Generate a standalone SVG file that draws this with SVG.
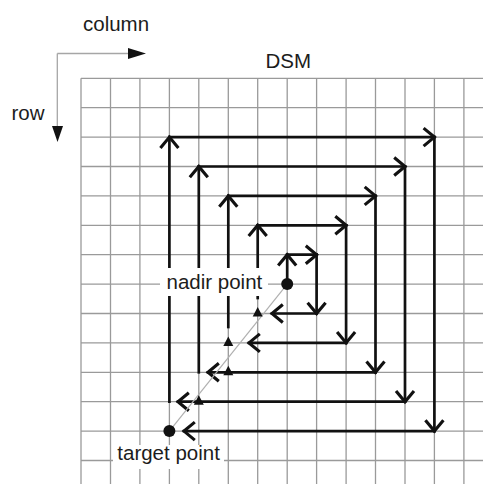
<svg xmlns="http://www.w3.org/2000/svg" width="483" height="484" viewBox="0 0 483 484">
  <style>
    .grid { stroke: #9a9a9a; stroke-width: 1.3; fill: none; }
    .axis { stroke: #a6a6a6; stroke-width: 1.3; fill: none; }
    .ray { stroke: #b0b0b0; stroke-width: 1.2; fill: none; }
    .loop { stroke: #111; stroke-width: 2.7; fill: none; stroke-linecap: square; marker-end: url(#chev); }
    .mark { fill: #111; }
    .lbl { font-family: "Liberation Sans", Arial, Helvetica, sans-serif; font-size: 20.5px; fill: #1c1c1c; }
  </style>
  <defs>
    <!-- open chevron arrowhead used on every spiral leg -->
    <marker id="chev" markerUnits="userSpaceOnUse" orient="auto" markerWidth="24" markerHeight="24" viewBox="-12 -10 16 20" refX="0" refY="0" overflow="visible">
      <path d="M-9,-7.5 L0,0 L-9,7.5" fill="none" stroke="#111" stroke-width="2.6"/>
    </marker>
  </defs>

  <rect width="483" height="484" fill="#fff"/>

  <!-- DSM grid -->
  <path class="grid" d="M81 78.3V484M110.5 78.3V484M139.9 78.3V484M169.4 78.3V484M198.8 78.3V484M228.3 78.3V484M257.7 78.3V484M287.2 78.3V484M316.6 78.3V484M346.1 78.3V484M375.5 78.3V484M405 78.3V484M434.4 78.3V484M463.9 78.3V484
  M81 78.3H483M81 107.7H483M81 137.1H483M81 166.5H483M81 195.9H483M81 225.3H483M81 254.7H483M81 284.1H483M81 313.5H483M81 342.9H483M81 372.3H483M81 401.7H483M81 431.1H483M81 460.5H483"/>

  <!-- axis arrows -->
  <g id="axes">
    <path class="axis" d="M57.3 53.5H129M57.3 53.5V127"/>
    <polygon class="mark" points="128,48 146,53.5 128,59"/>
    <polygon class="mark" points="52,126 63,126 57.5,142"/>
    <text class="lbl" x="83" y="31">column</text>
    <text class="lbl" x="11.5" y="119.5">row</text>
  </g>
  <text id="title" class="lbl" x="265.5" y="68.3">DSM</text>

  <!-- spiral search legs -->
  <g id="connectors">
    <g id="loop1">
      <path class="loop" d="M287.2 284.1V254.7"/>
      <path class="loop" d="M287.2 254.7H316.6"/>
      <path class="loop" d="M316.6 254.7V313.5"/>
      <path class="loop" d="M316.6 313.5H272"/>
    </g>
    <g id="loop2">
      <path class="loop" d="M257.7 298V225.3"/>
      <path class="loop" d="M257.7 225.3H346.1"/>
      <path class="loop" d="M346.1 225.3V342.9"/>
      <path class="loop" d="M346.1 342.9H249"/>
    </g>
    <g id="loop3">
      <path class="loop" d="M228.3 327V195.9"/>
      <path class="loop" d="M228.3 195.9H375.5"/>
      <path class="loop" d="M375.5 195.9V372.3"/>
      <path class="loop" d="M375.5 372.3H208"/>
    </g>
    <g id="loop4">
      <path class="loop" d="M198.8 372.3V166.5"/>
      <path class="loop" d="M198.8 166.5H405"/>
      <path class="loop" d="M405 166.5V401.7"/>
      <path class="loop" d="M405 401.7H178"/>
    </g>
    <g id="loop5">
      <path class="loop" d="M169.4 401.7V137.1"/>
      <path class="loop" d="M169.4 137.1H434.4"/>
      <path class="loop" d="M434.4 137.1V431.1"/>
      <path class="loop" d="M434.4 431.1H184"/>
    </g>
    <!-- line of sight from nadir to target -->
    <path id="ray" class="ray" d="M287.2 284.1L169.4 431.1"/>
  </g>

  <!-- cells crossed by the ray -->
  <g id="crossings">
    <polygon class="mark" points="257.7,307 252.7,316.5 262.7,316.5"/>
    <polygon class="mark" points="228.3,336.4 223.3,345.9 233.3,345.9"/>
    <polygon class="mark" points="228.3,365.8 223.3,375.3 233.3,375.3"/>
    <polygon class="mark" points="198.8,395.2 193.8,404.7 203.8,404.7"/>
  </g>

  <g id="nadir">
    <rect x="160" y="268" width="108" height="28" fill="#fff"/>
    <circle class="mark" cx="287.2" cy="284.1" r="6"/>
    <text class="lbl" x="166.5" y="288.5">nadir point</text>
  </g>

  <g id="target">
    <rect x="113" y="445" width="111" height="24" fill="#fff"/>
    <circle class="mark" cx="169.4" cy="431.1" r="6"/>
    <text class="lbl" x="117.3" y="460">target point</text>
  </g>
</svg>
